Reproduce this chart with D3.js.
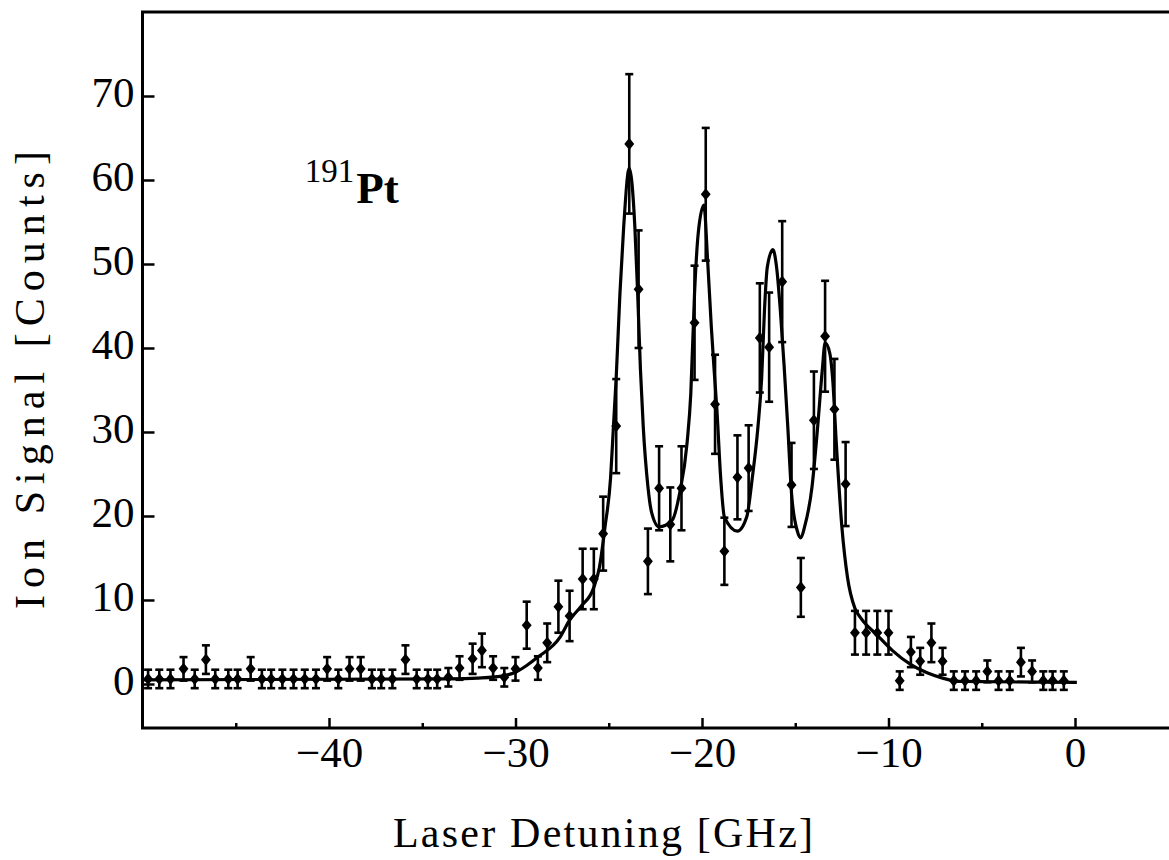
<!DOCTYPE html>
<html>
<head>
<meta charset="utf-8">
<script src="https://cdn.jsdelivr.net/npm/d3@7"></script>
<style>
  body { margin: 0; background: #fff; }
  text { font-family: "Liberation Serif", "DejaVu Serif", serif; fill: #000; }
</style>
</head>
<body>
<div id="chart"></div>
<script>
/* global d3 */

// Our canvas
const width = 1169,
  height = 860

// Measured points: detuning [GHz], ion counts, error bars
const detuning = [
  -49.7, -49.1, -48.5, -47.8, -47.2, -46.6, -46.1, -45.4, -44.9, -44.2,
  -43.6, -43.1, -42.5, -41.9, -41.3, -40.7, -40.1, -39.5, -38.9, -38.3,
  -37.7, -37.2, -36.6, -35.9, -35.3, -34.7, -34.2, -33.6, -33.0, -32.3,
  -31.8, -31.2, -30.6, -30.0, -29.4, -28.8, -28.3, -27.7, -27.1, -26.4,
  -25.8, -25.3, -24.6, -23.9, -23.4, -22.9, -22.3, -21.7, -21.1, -20.4,
  -19.8, -19.3, -18.8, -18.1, -17.5, -16.9, -16.4, -15.7, -15.2, -14.7,
  -14.0, -13.4, -12.9, -12.3, -11.8, -11.2, -10.6, -10.0, -9.4, -8.8,
  -8.3, -7.7, -7.1, -6.5, -5.9, -5.3, -4.7, -4.1, -3.5, -2.9,
  -2.3, -1.7, -1.2, -0.6
]
const counts = [
  0.6, 0.6, 0.6, 1.8, 0.6, 2.9, 0.6, 0.6, 0.6, 1.8,
  0.6, 0.6, 0.6, 0.6, 0.6, 0.6, 1.8, 0.6, 1.8, 1.8,
  0.6, 0.6, 0.6, 2.9, 0.6, 0.6, 0.6, 0.8, 1.9, 3.0,
  4.0, 1.9, 0.8, 1.8, 7.0, 1.9, 4.9, 9.2, 8.1, 12.5,
  12.5, 17.9, 30.7, 64.3, 47.0, 14.6, 23.3, 19.0, 23.3, 43.0,
  58.3, 33.3, 15.8, 24.6, 25.7, 41.2, 40.1, 47.9, 23.7, 11.5,
  31.4, 41.4, 32.7, 23.8, 6.1, 6.1, 6.1, 6.1, 0.4, 3.8,
  2.7, 4.9, 2.7, 0.4, 0.4, 0.4, 1.5, 0.4, 0.4, 2.6,
  1.5, 0.4, 0.4, 0.4
]
const errors = [
  1.1, 1.1, 1.1, 1.4, 1.1, 1.7, 1.1, 1.1, 1.1, 1.4,
  1.1, 1.1, 1.1, 1.1, 1.1, 1.1, 1.4, 1.1, 1.4, 1.4,
  1.1, 1.1, 1.1, 1.7, 1.1, 1.1, 1.1, 1.1, 1.4, 1.8,
  2.0, 1.4, 1.1, 1.4, 2.8, 1.4, 2.3, 3.1, 3.0, 3.6,
  3.6, 4.4, 5.6, 8.3, 7.0, 3.9, 5.0, 4.4, 5.0, 6.8,
  7.9, 5.9, 4.0, 5.0, 5.1, 6.5, 6.5, 7.2, 5.0, 3.5,
  5.8, 6.6, 6.0, 5.0, 2.6, 2.6, 2.6, 2.6, 1.1, 1.8,
  1.6, 2.3, 1.6, 1.1, 1.1, 1.1, 1.3, 1.1, 1.1, 1.7,
  1.3, 1.1, 1.1, 1.1
]

// Fit curve
const fitX = [
  -50, -33.5, -32.0, -30.6, -30.0, -29.4, -28.8, -27.6, -27.1, -26.5,
  -25.8, -25.5, -25.2, -24.9, -24.75, -24.6, -24.4, -24.2, -23.9, -23.6,
  -23.45, -23.3, -23.15, -22.9, -22.7, -22.3, -21.6, -21.2, -20.8, -20.6,
  -20.4, -20.2, -19.9, -19.7, -19.5, -19.35, -19.2, -19.0, -18.8, -18.1,
  -17.6, -17.3, -17.0, -16.8, -16.65, -16.5, -16.2, -16.0, -15.8, -15.6,
  -15.4, -15.2, -14.9, -14.7, -14.5, -14.1, -13.8, -13.55, -13.4, -13.15,
  -13.0, -12.8, -12.5, -12.2, -11.8, -11.5, -10.6, -9.8, -8.8, -7.9,
  -7.1, -6.2, 0.1
]
const fitY = [
  0.5, 0.6, 0.7, 1.0, 1.4, 2.2, 3.2, 5.6, 7.6, 9.2,
  11.5, 13.9, 18.7, 24.6, 30.6, 36.5, 46.5, 54.4, 61.4, 54.4,
  46.5, 37.4, 30.6, 23.5, 20.4, 18.7, 19.5, 22.7, 28.7, 34.6,
  46.5, 53.7, 57.0, 50.5, 42.5, 37.4, 32.6, 24.6, 19.9, 18.2,
  19.9, 24.6, 30.6, 36.5, 44.5, 49.6, 51.7, 49.6, 44.5, 38.0,
  30.6, 22.7, 18.3, 17.4, 18.7, 23.5, 30.6, 37.4, 40.6, 39.4,
  36.5, 28.7, 18.7, 12.7, 9.0, 7.9, 5.8, 4.0, 2.3, 1.3,
  0.7, 0.3, 0.2
]

// Ticks
const yTicks = [0, 10, 20, 30, 40, 50, 60, 70]
const xTicks = [-40, -30, -20, -10, 0]
const xMinorTicks = [-45, -35, -25, -15, -5]

let svg = d3.select('#chart')
  .append('svg')
  .attr('width', width)
  .attr('height', height)

let x = d3.scaleLinear()
  .domain([-50, 5.04])
  .range([142.5, 1169])
let y = d3.scaleLinear()
  .domain([-5.24, 80])
  .range([728, 12])

// frame: left, bottom and top lines
svg.append('path')
  .attr('d', d3.line()([[x(5.04), y(80)], [x(-50), y(80)], [x(-50), y(-5.24)], [x(5.04), y(-5.24)]]))
  .attr('fill', 'none')
  .attr('stroke', '#000')
  .attr('stroke-width', 3)

// axes, ticks pointing inward
let yAxis = d3.axisLeft(y).tickValues(yTicks).tickSizeInner(-12).tickSizeOuter(0).tickPadding(8)
let xAxis = d3.axisBottom(x).tickValues(xTicks).tickSizeInner(-10).tickSizeOuter(0).tickPadding(8)
let xMinor = d3.axisBottom(x).tickValues(xMinorTicks).tickSizeInner(-5).tickSizeOuter(0).tickFormat('')

let yG = svg.append('g')
  .attr('transform', `translate(${x(-50)},0)`)
  .call(yAxis)
let xG = svg.append('g')
  .attr('transform', `translate(0,${y(-5.24)})`)
  .call(xAxis)
let xmG = svg.append('g')
  .attr('transform', `translate(0,${y(-5.24)})`)
  .call(xMinor)

;[yG, xG, xmG].forEach(g => {
  g.select('.domain').remove()
  g.selectAll('line').attr('stroke', '#000').attr('stroke-width', 2.5)
  g.selectAll('text')
    .attr('font-family', '"Liberation Serif", serif')
    .attr('font-size', 43)
    .attr('fill', '#000')
})
yG.selectAll('text').attr('dy', '0.25em')

// fit curve
let fitLine = d3.line()
  .x(d => x(d[0]))
  .y(d => y(d[1]))
  .curve(d3.curveMonotoneX)

svg.append('path')
  .datum(d3.zip(fitX, fitY))
  .attr('d', fitLine)
  .attr('fill', 'none')
  .attr('stroke', '#000')
  .attr('stroke-width', 3.2)

// error bars
let points = d3.zip(detuning, counts, errors)
let capW = 4

let bars = svg.append('g')
  .attr('stroke', '#000')
  .attr('stroke-width', 2.6)
  .selectAll('g')
  .data(points)
  .enter()
  .append('g')

bars.append('line')
  .attr('x1', d => x(d[0])).attr('x2', d => x(d[0]))
  .attr('y1', d => y(d[1] - d[2])).attr('y2', d => y(d[1] + d[2]))
bars.append('line')
  .attr('x1', d => x(d[0]) - capW).attr('x2', d => x(d[0]) + capW)
  .attr('y1', d => y(d[1] + d[2])).attr('y2', d => y(d[1] + d[2]))
bars.append('line')
  .attr('x1', d => x(d[0]) - capW).attr('x2', d => x(d[0]) + capW)
  .attr('y1', d => y(d[1] - d[2])).attr('y2', d => y(d[1] - d[2]))

// diamond markers
const diamond = {
  draw(ctx, size) {
    let w = Math.sqrt(size) * 0.45, h = Math.sqrt(size) * 0.55
    ctx.moveTo(0, -h)
    ctx.lineTo(w, 0)
    ctx.lineTo(0, h)
    ctx.lineTo(-w, 0)
    ctx.closePath()
  }
}

svg.append('g')
  .selectAll('path')
  .data(points)
  .enter()
  .append('path')
  .attr('d', d3.symbol().type(diamond).size(121))
  .attr('transform', d => `translate(${x(d[0])},${y(d[1])})`)
  .attr('fill', '#000')

// isotope label
let iso = svg.append('text')
  .attr('x', x(-41.3))
  .attr('y', y(57.3))
iso.append('tspan')
  .attr('font-size', 33)
  .attr('dy', -21)
  .text('191')
iso.append('tspan')
  .attr('font-size', 45)
  .attr('font-weight', 'bold')
  .attr('dy', 21)
  .attr('dx', 2)
  .text('Pt')

// axis titles
svg.append('text')
  .attr('x', 603)
  .attr('y', 847)
  .attr('text-anchor', 'middle')
  .attr('font-size', 42)
  .attr('textLength', 420)
  .attr('lengthAdjust', 'spacing')
  .text('Laser Detuning [GHz]')

svg.append('text')
  .attr('transform', 'translate(44,380) rotate(-90)')
  .attr('text-anchor', 'middle')
  .attr('font-size', 42)
  .attr('textLength', 458)
  .attr('lengthAdjust', 'spacing')
  .text('Ion Signal [Counts]')
</script>
</body>
</html>
